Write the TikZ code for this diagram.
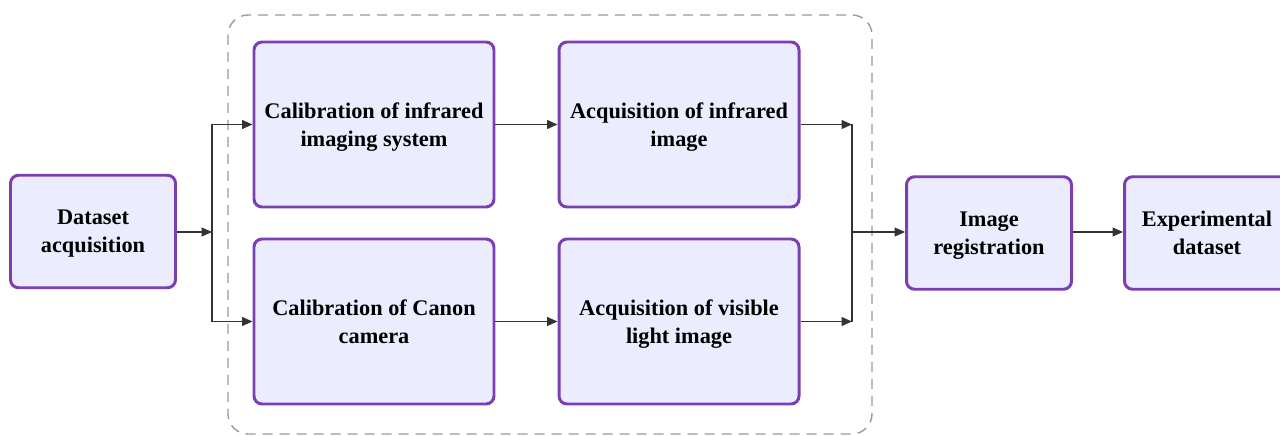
\documentclass[tikz,border=0pt]{standalone}
\usepackage{fontspec}
\setmainfont{Liberation Serif}[BoldFont={Liberation Serif Bold}]
\newfontfamily\stagefont{Liberation Serif Bold}
\usepackage{tikz}
\usetikzlibrary{arrows.meta}
\usetikzlibrary{positioning}
\usepackage{xcolor}
\definecolor{boxfill}{HTML}{ECECFF}
\definecolor{boxline}{HTML}{7B3FB4}
\definecolor{linkcol}{HTML}{333333}
\definecolor{groupcol}{HTML}{9A9A9A}

\tikzset{
  stage/.style={draw=boxline, fill=boxfill, line width=1.7pt, rounded corners=0.16cm,
    align=center, font=\stagefont\fontsize{12.7}{15.9}\selectfont, inner sep=0pt,
    text depth=0pt},
  bigstage/.style={stage, minimum width=4.8cm, minimum height=3.3cm},
  smallstage/.style={stage, minimum width=3.3cm, minimum height=2.25cm},
  link/.style={draw=linkcol, line width=0.7pt, -{Triangle[length=0.21cm, width=0.18cm]}},
  wire/.style={draw=linkcol, line width=0.7pt}
}

\begin{document}
\begin{tikzpicture}
\useasboundingbox (0,0) rectangle (25.6,-8.72);
\draw[groupcol, line width=0.8pt, dash pattern=on 0.2cm off 0.14cm, rounded corners=0.4cm]
  (4.56,-0.3) rectangle (17.44,-8.68);

\node[smallstage] (dsacq) at (1.86,-4.63) {Dataset\\acquisition};
\node[bigstage] (calir) at (7.48,-2.49) {Calibration of infrared\\imaging system};
\node[bigstage] (acqir) at (13.58,-2.49) {Acquisition of infrared\\image};
\node[bigstage] (calcan) at (7.48,-6.43) {Calibration of Canon\\camera};
\node[bigstage] (acqvis) at (13.58,-6.43) {Acquisition of visible\\light image};
\node[smallstage] (imreg) at (19.78,-4.66) {Image\\registration};
\node[smallstage] (expds) at (24.14,-4.66) {Experimental\\dataset};

\coordinate (split) at (4.24,-4.64);
\coordinate (join) at (17.04,-4.64);

\draw[link] (dsacq.east |- split) -- (split);
\draw[link] (split) |- (calir);
\draw[link] (split) |- (calcan);
\draw[link] (calir) -- (acqir);
\draw[link] (calcan) -- (acqvis);
\draw[link] (acqir) -- (acqir -| join);
\draw[link] (acqvis) -- (acqvis -| join);
\draw[wire] (acqir -| join) -- (acqvis -| join);
\draw[link] (join) -- (join -| imreg.west);
\draw[link] (imreg.east |- join) -- (expds.west |- join);
\end{tikzpicture}
\end{document}
